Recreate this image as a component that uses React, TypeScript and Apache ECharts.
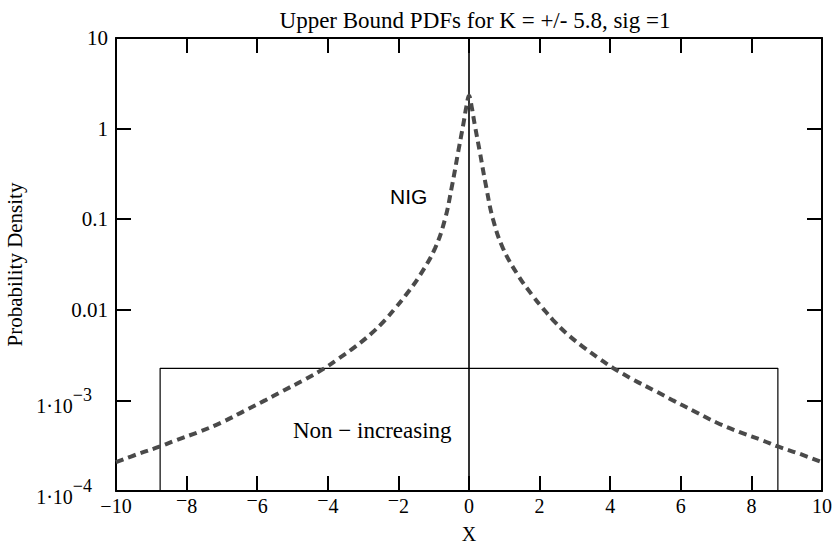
import React, { useEffect, useRef } from "react";
import * as echarts from "echarts";

// NIG upper-bound density
const nigX = [
  -10, -9.37, -8.75, -8.33, -7.67, -7.01, -6.35, -5.78, -5.31, -4.65, -4.08, -3.7, -3.23, -2.76, -2.38, -2.1,
  -1.81, -1.39, -0.96, -0.68, -0.49, -0.3, -0.16, -0.08, 0, 0.08, 0.16, 0.3, 0.49, 0.68, 0.96, 1.39, 1.81, 2.1,
  2.38, 2.76, 3.23, 3.7, 4.08, 4.65, 5.31, 5.78, 6.35, 7.01, 7.67, 8.33, 8.75, 9.37, 10,
];
const nigY = [
  0.000208, 0.000257, 0.00031, 0.00036, 0.000446, 0.00057, 0.00077, 0.001, 0.00125, 0.0017, 0.00228, 0.00288,
  0.0039, 0.0055, 0.0077, 0.0103, 0.0142, 0.024, 0.048, 0.1, 0.224, 0.57, 1.12, 1.7, 2.3, 1.7, 1.12, 0.57,
  0.224, 0.1, 0.048, 0.024, 0.0142, 0.0103, 0.0077, 0.0055, 0.0039, 0.00288, 0.00228, 0.0017, 0.00125, 0.001,
  0.00077, 0.00057, 0.000446, 0.00036, 0.00031, 0.000257, 0.000208,
];

// Non-increasing bound (rectangle)
const rectX = [-8.75, -8.75, 8.75, 8.75];
const rectY = [0.0001, 0.00226, 0.00226, 0.0001];

// vertical line at x = 0
const zeroX = [0, 0];
const zeroY = [0.0001, 10];

const xTickValues = [-10, -8, -6, -4, -2, 0, 2, 4, 6, 8, 10];
const xTickLabels = ["−10", "^−8", "^−6", "^−4", "^−2", "0", "2", "4", "6", "8", "10"];
const yTickValues = [0.0001, 0.001, 0.01, 0.1, 1, 10];
const yTickLabels = ["1·10^−4", "1·10^−3", "0.01", "0.1", "1", "10"];

const titleText = "Upper Bound PDFs for K = +/- 5.8, sig =1";
const xName = "X";
const yName = "Probability Density";
const nigLabel = "NIG";
const rectLabel = "Non − increasing";

const SERIF = "'Liberation Serif', 'Times New Roman', serif";
const SANS = "'Liberation Sans', Arial, sans-serif";

function xLabel(v: number): string {
  let idx = -1;
  for (let i = 0; i < xTickValues.length; i++) if (Math.abs(xTickValues[i] - v) < 1e-6) idx = i;
  if (idx < 0) return "";
  const t = xTickLabels[idx];
  if (t.startsWith("^")) return `{m|${t.slice(1, 2)}}{b|${t.slice(2)}}`;
  return `{b|${t}}`;
}

function yLabel(v: number): string {
  const e = Math.round(Math.log10(v));
  let idx = -1;
  for (let i = 0; i < yTickValues.length; i++) if (Math.round(Math.log10(yTickValues[i])) === e) idx = i;
  if (idx < 0) return "";
  const t = yTickLabels[idx];
  const k = t.indexOf("^");
  if (k >= 0) return `{b|${t.slice(0, k)}}{s|${t.slice(k + 1)}}`;
  return `{c|${t}}`;
}

export default function App() {
  const ref = useRef<HTMLDivElement>(null);
  useEffect(() => {
    if (!ref.current) return;
    const chart = echarts.init(ref.current, undefined, { renderer: "svg" });
    const axisLine = { show: true, onZero: false, lineStyle: { color: "#000", width: 2 } };
    const tick = { show: true, inside: true, length: 15, lineStyle: { color: "#000", width: 2 } };
    chart.setOption({
      animation: false,
      backgroundColor: "#fff",
      title: {
        text: titleText,
        left: 470,
        top: 4,
        textAlign: "center",
        textStyle: { fontFamily: SERIF, fontSize: 23, fontWeight: "normal", color: "#000" },
      },
      grid: { left: 116, right: 13, top: 38, bottom: 57, containLabel: false, outerBoundsMode: "none" },
      xAxis: [
        {
          type: "value",
          min: -10,
          max: 10,
          interval: 2,
          position: "bottom",
          axisLine,
          axisTick: tick,
          splitLine: { show: false },
          name: xName,
          nameLocation: "middle",
          nameGap: 33,
          nameTextStyle: { fontFamily: SERIF, fontSize: 20, color: "#000", lineHeight: 20 },
          axisLabel: {
            margin: 2,
            formatter: xLabel,
            rich: {
              b: { fontFamily: SERIF, fontSize: 20, color: "#000", lineHeight: 20, padding: [6, 0, 0, 0] },
              m: { fontFamily: SERIF, fontSize: 20, color: "#000", lineHeight: 20, padding: [0, 0, 6, 0] },
            },
          },
        },
        {
          type: "value",
          min: -10,
          max: 10,
          interval: 2,
          position: "top",
          axisLine,
          axisTick: tick,
          axisLabel: { show: false },
          splitLine: { show: false },
        },
      ],
      yAxis: [
        {
          type: "log",
          logBase: 10,
          min: 0.0001,
          max: 10,
          position: "left",
          axisLine,
          axisTick: tick,
          minorTick: { show: false },
          splitLine: { show: false },
          name: yName,
          nameLocation: "middle",
          nameGap: 88,
          nameRotate: 90,
          nameTextStyle: { fontFamily: SERIF, fontSize: 21, color: "#000" },
          axisLabel: {
            margin: 8,
            formatter: yLabel,
            rich: {
              c: { fontFamily: SERIF, fontSize: 21, color: "#000", lineHeight: 20 },
              b: { fontFamily: SERIF, fontSize: 20, color: "#000", lineHeight: 20, padding: [11, 0, 0, 0] },
              s: { fontFamily: SERIF, fontSize: 18, color: "#000", lineHeight: 20, padding: [0, 16, 11, 0] },
            },
          },
        },
        {
          type: "log",
          logBase: 10,
          min: 0.0001,
          max: 10,
          position: "right",
          axisLine,
          axisTick: tick,
          axisLabel: { show: false },
          splitLine: { show: false },
        },
      ],
      series: [
        {
          type: "line",
          name: "Non-increasing",
          data: rectX.map((x, i) => [x, rectY[i]]),
          symbol: "none",
          lineStyle: { color: "#000", width: 1.2 },
          z: 2,
        },
        {
          type: "line",
          name: "zero",
          data: zeroX.map((x, i) => [x, zeroY[i]]),
          symbol: "none",
          lineStyle: { color: "#000", width: 1.6 },
          z: 3,
        },
        {
          type: "line",
          name: "NIG",
          data: nigX.map((x, i) => [x, nigY[i]]),
          symbol: "none",
          smooth: 0.4,
          lineStyle: { color: "#4a4a4a", width: 4, type: [8, 5], cap: "butt" },
          z: 4,
        },
      ],
      graphic: [
        {
          type: "text",
          x: 390,
          y: 196,
          style: { text: nigLabel, fontFamily: SANS, fontSize: 21, fill: "#000", align: "left", verticalAlign: "middle" },
        },
        {
          type: "text",
          x: 293,
          y: 430,
          style: { text: rectLabel, fontFamily: SERIF, fontSize: 23, fill: "#000", align: "left", verticalAlign: "middle" },
        },
      ],
    });
    return () => chart.dispose();
  }, []);
  return <div ref={ref} style={{ position: "absolute", left: 0, top: 0, width: 835, height: 548 }} />;
}
